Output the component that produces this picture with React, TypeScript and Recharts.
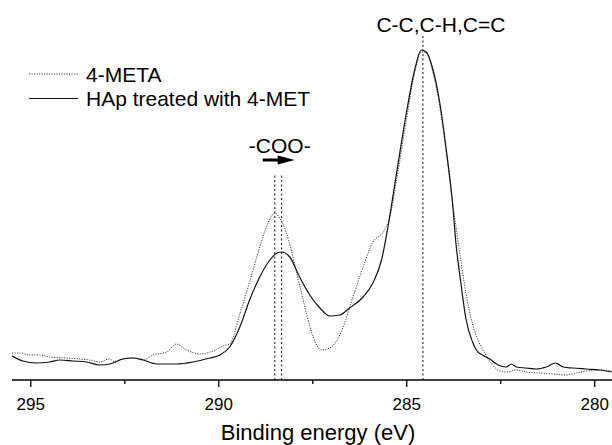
import React from 'react';
import { LineChart, Line, XAxis, YAxis, ReferenceLine, Legend } from 'recharts';

// binding energy (eV) / intensity (a.u.)
const metaEnergy = [
  295.5, 295.29, 295.03, 294.76, 294.5, 294.05, 293.7, 293.43, 293.17, 292.9,
  292.77, 292.55, 292.28, 292.01, 291.75, 291.39, 291.13, 290.86, 290.51, 290.15,
  289.89, 289.71, 289.44, 289.18, 288.91, 288.69, 288.51, 288.38, 288.2, 288.07,
  287.93, 287.8, 287.67, 287.49, 287.27, 287.05, 286.78, 286.69, 286.43, 286.16,
  285.9, 285.63, 285.45, 285.27, 285.01, 284.79, 284.61, 284.48, 284.3, 284.12,
  283.94, 283.77, 283.61, 283.43, 283.25, 283.08, 282.9, 282.72, 282.57, 282.35,
  282.08, 281.82, 281.46, 281.11, 280.75, 280.49, 280.22, 279.87, 279.55,
];
const metaIntensity = [
  27, 27, 25, 25, 23, 22, 21, 20, 18, 21,
  18, 21, 22, 20, 25, 28, 36, 30, 26, 29,
  34, 36, 66, 98, 133, 157, 167, 162, 147, 130,
  107, 87, 67, 43, 30, 32, 45, 53, 83, 113,
  138, 148, 163, 200, 260, 307, 328, 327, 307, 273,
  225, 175, 132, 88, 56, 38, 25, 15, 10, 8,
  10, 8, 7, 6, 5, 7, 9, 10, 9,
];

const hapEnergy = [
  295.5, 295.21, 294.85, 294.5, 294.23, 293.88, 293.52, 293.17, 292.9, 292.55,
  292.28, 292.01, 291.66, 291.13, 290.68, 290.24, 289.97, 289.71, 289.44, 289.18,
  288.91, 288.64, 288.45, 288.33, 288.11, 287.85, 287.58, 287.31, 287.05, 286.78,
  286.52, 286.16, 285.9, 285.67, 285.5, 285.27, 285.01, 284.79, 284.61, 284.48,
  284.3, 284.12, 283.94, 283.77, 283.7, 283.56, 283.43, 283.25, 283.15, 282.99,
  282.79, 282.57, 282.35, 282.22, 282.08, 281.82, 281.55, 281.29, 281.04, 280.84,
  280.58, 280.22, 279.87, 279.55,
];
const hapIntensity = [
  24, 19, 17, 18, 20, 19, 18, 15, 16, 21,
  22, 20, 16, 16, 18, 22, 25, 33, 53, 80,
  103, 120, 127, 128, 123, 103, 85, 72, 64, 65,
  72, 83, 97, 120, 153, 207, 267, 310, 330, 328,
  310, 277, 228, 172, 140, 97, 62, 38, 30, 25,
  21, 15, 13, 16, 13, 12, 11, 13, 17, 13,
  12, 11, 10, 8,
];

const seriesNames = ['4-META', 'HAp treated with 4-MET'];
const majorTicks = [295, 290, 285, 280];
const minorTicks = [292.5, 287.5, 282.5];

// annotations
const ccLabel = 'C-C,C-H,C=C';
const ccPeak = 284.57;
const cooLabel = '-COO-';
const cooLines = [288.51, 288.33];
const cooArrow = [288.83, 287.98];

const FONT = '"Liberation Sans", Arial, Helvetica, sans-serif';

const metaData = metaEnergy.map((x, i) => ({ x, y: metaIntensity[i] }));
const hapData = hapEnergy.map((x, i) => ({ x, y: hapIntensity[i] }));

function EnergyTick(props: any) {
  const { x, y, payload } = props;
  const major = majorTicks.includes(payload.value);
  return (
    <g>
      <line x1={x} x2={x} y1={y} y2={y + (major ? 7 : 4)} stroke="#000" strokeWidth={1.3} />
      {major && (
        <text x={x} y={y + 30} textAnchor="middle" fontSize={17} fontFamily={FONT} fill="#000">
          {payload.value}
        </text>
      )}
    </g>
  );
}

function ArrowShape(props: any) {
  const { x1, y1, x2 } = props;
  const head = 17;
  return (
    <g>
      <line x1={x1} y1={y1} x2={x2 - head + 2} y2={y1} stroke="#000" strokeWidth={3} />
      <polygon points={`${x2},${y1} ${x2 - head},${y1 - 4.5} ${x2 - head},${y1 + 4.5}`} fill="#000" />
    </g>
  );
}

function renderLegend(props: any) {
  const items = props.payload || [];
  return (
    <svg width={340} height={120} style={{ display: 'block' }}>
      {items.map((entry: any, i: number) => {
        const yLine = 74 + i * 24.5;
        const dotted = entry.value === seriesNames[0];
        return (
          <g key={entry.value}>
            <line
              x1={29}
              x2={78}
              y1={yLine}
              y2={yLine}
              stroke={dotted ? '#444' : '#111'}
              strokeWidth={dotted ? 1 : 1.2}
              strokeDasharray={dotted ? '1.2 1.3' : undefined}
            />
            <text x={86} y={yLine + 7.5} fontSize={21} fontFamily={FONT} fill="#000">
              {entry.value}
            </text>
          </g>
        );
      })}
    </svg>
  );
}

export default function App() {
  return (
    <div style={{ position: 'absolute', left: 0, top: 0, width: 612, height: 445, background: '#fff' }}>
      <LineChart width={612} height={445} margin={{ top: 40, right: 0, left: 12, bottom: 5 }}>
        <XAxis
          type="number"
          dataKey="x"
          domain={[279.54, 295.5]}
          reversed
          allowDataOverflow
          ticks={[...majorTicks, ...minorTicks].sort((a, b) => a - b)}
          interval={0}
          tick={<EnergyTick />}
          tickLine={false}
          tickSize={0}
          tickMargin={0}
          axisLine={{ stroke: '#000', strokeWidth: 1.5 }}
          height={60}
          label={(p: any) => {
            const vb = p.viewBox;
            return (
              <text x={vb.x + vb.width / 2 + 6} y={vb.y + 60} textAnchor="middle" fontSize={22} fontFamily={FONT} fill="#000">
                Binding energy (eV)
              </text>
            );
          }}
        />
        <YAxis type="number" domain={[0, 340]} hide allowDataOverflow />
        <Legend
          layout="vertical"
          align="center"
          verticalAlign="middle"
          content={renderLegend}
          wrapperStyle={{ position: 'absolute', left: 0, top: 0, width: 340, height: 120 }}
        />
        <ReferenceLine
          segment={[{ x: ccPeak, y: 0 }, { x: ccPeak, y: 346 }]}
          ifOverflow="visible"
          stroke="#333"
          strokeWidth={1.2}
          strokeDasharray="2 2.5"
          label={(p: any) => {
            const vb = p.viewBox;
            return (
              <text x={vb.x + 18} y={vb.y - 2} textAnchor="middle" fontSize={21} fontFamily={FONT} fill="#000">
                {ccLabel}
              </text>
            );
          }}
        />
        {cooLines.map((e) => (
          <ReferenceLine
            key={e}
            segment={[{ x: e, y: 0 }, { x: e, y: 205 }]}
            stroke="#333"
            strokeWidth={1.2}
            strokeDasharray="2 2.5"
          />
        ))}
        <ReferenceLine
          segment={[{ x: cooArrow[0], y: 220 }, { x: cooArrow[1], y: 220 }]}
          shape={ArrowShape}
          label={(p: any) => {
            const vb = p.viewBox;
            return (
              <text x={vb.x + vb.width / 2 + 1} y={vb.y - 7} textAnchor="middle" fontSize={21} fontFamily={FONT} fill="#000">
                {cooLabel}
              </text>
            );
          }}
        />
        <Line
          data={metaData}
          dataKey="y"
          name={seriesNames[0]}
          type="monotone"
          stroke="#444"
          strokeWidth={1}
          strokeDasharray="1.2 1.3"
          dot={false}
          activeDot={false}
          isAnimationActive={false}
        />
        <Line
          data={hapData}
          dataKey="y"
          name={seriesNames[1]}
          type="monotone"
          stroke="#111"
          strokeWidth={1.2}
          dot={false}
          activeDot={false}
          isAnimationActive={false}
        />
      </LineChart>
    </div>
  );
}
